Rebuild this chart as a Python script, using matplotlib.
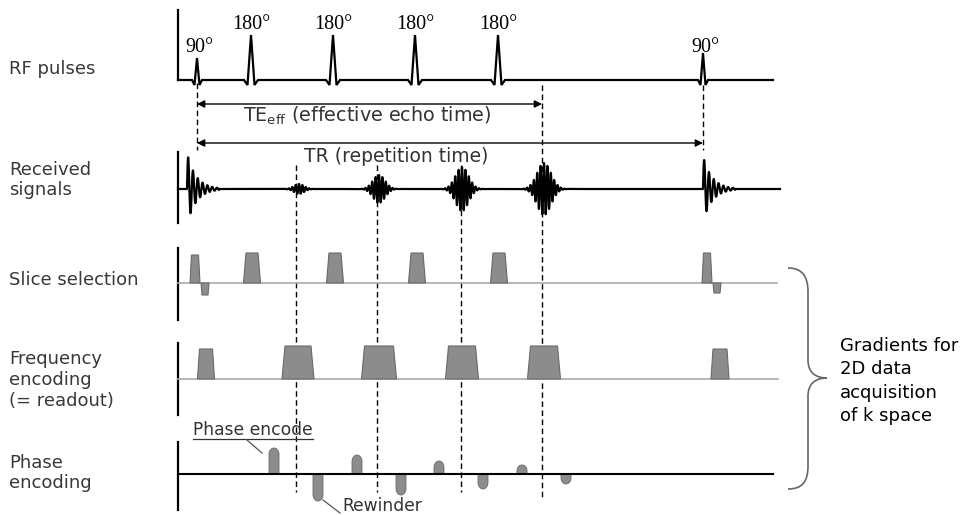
import numpy as np
import matplotlib
matplotlib.use("Agg")
import matplotlib.pyplot as plt
from matplotlib.patches import Polygon, PathPatch, FancyArrowPatch
from matplotlib.path import Path

# ---------------- data (time axis in diagram units) ----------------
row_labels = ["RF pulses", "Received\nsignals", "Slice selection",
              "Frequency\nencoding\n(= readout)", "Phase\nencoding"]
row_label_y = [69, 180, 280, 380, 473]

rf90_t = [197, 703]
rf90_h = [22, 27]
rf180_t = [251, 333, 415, 498]
rf180_h = [45, 45, 45, 45]

fid_t = [187, 703]
fid_amp = [36, 33]
echo_t = [299, 379, 462, 544]
echo_amp = [5, 14, 22, 26]
echo_width = [5, 6, 6.5, 7]

slice_t = [195, 252, 335, 417, 499, 707]
slice_h = [28, 30, 30, 30, 30, 30]
slice_w = [10, 17, 17, 17, 17, 10]
slice_neg_t = [205, 717]
slice_neg_h = [12, 10]
slice_neg_w = [8, 8]

freq_t = [206, 298, 379, 462, 544, 720]
freq_w = [17, 32, 35, 33, 33, 18]
freq_h = [30, 33, 33, 33, 33, 30]

pe_t = [274, 357, 439, 522]
pe_h = [26, 19, 13, 9]
rw_t = [318, 401, 483, 566]
rw_h = [27, 21, 15, 10]

echo_lines = [296, 377, 461, 542]

# ---------------- layout ----------------
x0, x_end = 178, 775
rf_base, rx_base, sl_base, fr_base, ph_base = 80, 189, 283, 379, 474
grad_face, grad_edge = "#8c8c8c", "#6a6a6a"

fig = plt.figure(figsize=(9.62, 5.15), dpi=100)
ax = fig.add_axes([0, 0, 1, 1])
ax.set_xlim(0, 962)
ax.set_ylim(515, 0)
ax.axis("off")

# row labels
for lab, y in zip(row_labels, row_label_y):
    ax.text(9, y, lab, fontsize=13, color="#383838", va="center", ha="left",
            family="DejaVu Sans", linespacing=1.2)

# left vertical axes
for ya, yb in [(10, 80), (152, 223), (248, 320), (343, 415), (442, 510)]:
    ax.plot([x0, x0], [ya, yb], color="black", lw=1.6)

# ---- RF pulses ----
def rf_pulse(t, h, hw=7):
    xs = [t - hw, t - hw * 0.5, t, t + hw * 0.5, t + hw]
    ys = [rf_base, rf_base + 5, rf_base - h, rf_base + 5, rf_base]
    return xs, ys

xs_all, ys_all = [x0], [rf_base]
pulses = sorted([(t, h, 5) for t, h in zip(rf90_t, rf90_h)] +
                [(t, h, 7) for t, h in zip(rf180_t, rf180_h)])
for t, h, hw in pulses:
    xs, ys = rf_pulse(t, h, hw)
    xs_all += xs
    ys_all += ys
xs_all.append(x_end - 2)
ys_all.append(rf_base)
ax.plot(xs_all, ys_all, color="black", lw=1.6, solid_joinstyle="miter")

ser = dict(family="Liberation Serif", fontsize=14.5, color="black", ha="center", va="baseline")
for t in rf90_t:
    ax.text(t + 2, 52, "90°", **ser)
for t in rf180_t:
    ax.text(t, 29, "180°", **ser)

# ---- Received signals ----
xx = np.linspace(x0, 780, 6000)
sig = np.zeros_like(xx)
for t, a in zip(fid_t, fid_amp):
    m = xx >= t
    d = xx[m] - t
    sig[m] += a * np.exp(-d / 9.0) * np.sin(2 * np.pi * d / 4.8) * (d < 32)
for t, a, w in zip(echo_t, echo_amp, echo_width):
    d = xx - t
    sig += a * np.exp(-0.5 * (d / w) ** 2) * np.cos(2 * np.pi * d / 3.4)
ax.plot(xx, rx_base - sig, color="black", lw=1.6)

# ---- dashed timing lines ----
dash = dict(color="black", lw=1.0, linestyle=(0, (4, 2.5)))
ax.plot([197, 197], [83, 150], **dash)
ax.plot([703, 703], [85, 150], **dash)
ax.plot([542, 542], [85, 498], **dash)
for x in echo_lines[:3]:
    ax.plot([x, x], [165, 492], **dash)

# ---- TE / TR arrows ----
for y, xb in [(104, 542), (143, 703)]:
    ax.add_patch(FancyArrowPatch((197, y), (xb, y), arrowstyle="<|-|>",
                                 mutation_scale=11, color="black", lw=1.0,
                                 shrinkA=0, shrinkB=0))
ax.text(367, 116, r"TE$_{\mathregular{eff}}$ (effective echo time)", fontsize=13.8,
        color="#333333", ha="center", va="center")
ax.text(396, 156, "TR (repetition time)", fontsize=13.5, color="#333333",
        ha="center", va="center")

# ---- gradients ----
def trap(tc, w, h, base, sign=1, slope=2.0):
    pts = [(tc - w / 2, base), (tc - w / 2 + slope, base - sign * h),
           (tc + w / 2 - slope, base - sign * h), (tc + w / 2, base)]
    ax.add_patch(Polygon(pts, closed=True, fc=grad_face, ec=grad_edge, lw=0.8, zorder=3))

def lobe(tc, h, base, sign=1, w=10):
    r = w / 2
    th = np.linspace(np.pi, 0, 30)
    ry = min(r * 1.3, h * 0.6)
    xs = tc + r * np.cos(th)
    ys = base - sign * (h - ry + ry * np.sin(th))
    pts = [(tc - r, base)] + list(zip(xs, ys)) + [(tc + r, base)]
    ax.add_patch(Polygon(pts, closed=True, fc=grad_face, ec=grad_edge, lw=0.6, zorder=3))

ax.plot([x0, 777], [sl_base, sl_base], color="#aaaaaa", lw=1.2)
for t, w, h in zip(slice_t, slice_w, slice_h):
    trap(t, w, h, sl_base, 1, 1.5 if w < 12 else 2.5)
for t, w, h in zip(slice_neg_t, slice_neg_w, slice_neg_h):
    trap(t, w, h, sl_base, -1, 1.0)

ax.plot([x0, 778], [fr_base, fr_base], color="#aaaaaa", lw=1.2)
for t, w, h in zip(freq_t, freq_w, freq_h):
    trap(t, w, h, fr_base, 1, 2.0 if w < 20 else 3.0)

ax.plot([x0, 773], [ph_base, ph_base], color="black", lw=1.5, zorder=4)
for t, h in zip(pe_t, pe_h):
    lobe(t, h, ph_base, 1)
for t, h in zip(rw_t, rw_h):
    lobe(t, h, ph_base, -1)

# annotations
ax.text(193, 430, "Phase encode", fontsize=12.3, color="#333333", ha="left", va="center")
ax.plot([193, 313], [439, 439], color="#333333", lw=0.9)
ax.plot([247, 262], [440, 453], color="#555555", lw=0.9)
ax.text(342, 506, "Rewinder", fontsize=12.3, color="#333333", ha="left", va="center")
ax.plot([323, 340], [500, 513], color="#555555", lw=0.9)

# brace
verts = [(788, 268), (802, 268), (808, 276), (808, 292),
         (808, 360),
         (808, 372), (815, 378), (827, 378),
         (815, 378), (808, 384), (808, 396),
         (808, 466),
         (808, 482), (802, 489), (788, 489)]
codes = [Path.MOVETO, Path.CURVE4, Path.CURVE4, Path.CURVE4,
         Path.LINETO,
         Path.CURVE4, Path.CURVE4, Path.CURVE4,
         Path.CURVE4, Path.CURVE4, Path.CURVE4,
         Path.LINETO,
         Path.CURVE4, Path.CURVE4, Path.CURVE4]
ax.add_patch(PathPatch(Path(verts, codes), fc="none", ec="#666666", lw=1.2))

ax.text(840, 381, "Gradients for\n2D data\nacquisition\nof k space", fontsize=13,
        color="black", ha="left", va="center", linespacing=1.4)

fig.savefig("out.png", dpi=100)
